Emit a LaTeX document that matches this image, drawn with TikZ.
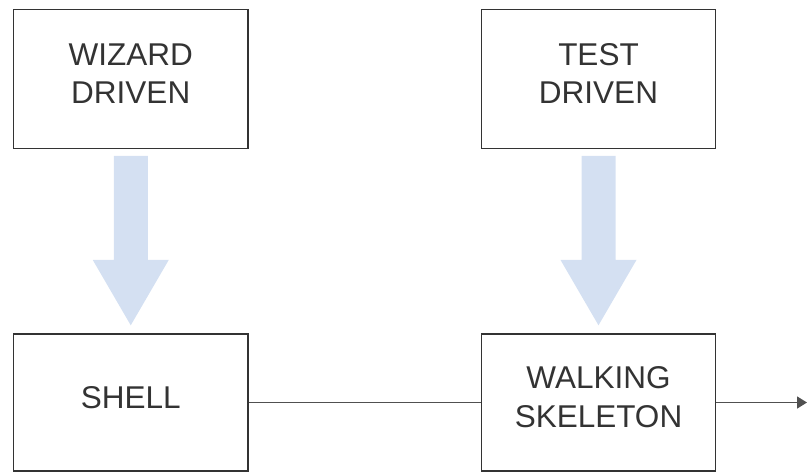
\documentclass[tikz,border=0pt]{standalone}
\usepackage{fontspec}
\setmainfont{Liberation Sans}
\usetikzlibrary{arrows.meta,calc}
\definecolor{boxline}{HTML}{333333}
\definecolor{txt}{HTML}{333333}
\definecolor{blockblue}{HTML}{D4E0F2}
\definecolor{conn}{HTML}{505050}
\tikzset{
  stagebox/.style={draw=boxline, line width=1.4pt, fill=white, minimum width=234.5pt, minimum height=138.5pt,
    inner sep=0pt, align=center, text=txt, text depth=11pt, font=\fontsize{31.5}{38.5}\selectfont},
  bigarrow/.style={fill=blockblue, draw=none},
  link/.style={draw=conn, line width=1.6pt}
}
\begin{document}
\begin{tikzpicture}[x=1pt,y=-1pt]
\useasboundingbox (0,0) rectangle (807,472);
\node[stagebox] (wiz) at (130.75,79) {WIZARD\\DRIVEN};
\node[stagebox] (test) at (598.5,79) {TEST\\DRIVEN};
\node[stagebox, minimum height=137pt] (shell) at (130.75,402.5) {SHELL};
\node[stagebox, minimum height=137pt] (walk) at (598.5,402.5) {WALKING\\SKELETON};
\foreach \a/\b in {wiz/shell, test/walk}{
  \fill[bigarrow] ($(\a.south)+(-17,7)$) -- ($(\a.south)+(17,7)$) -- ($(\a.south)+(17,111)$)
    -- ($(\a.south)+(38,111)$) -- ($(\b.north)+(0,-8)$) -- ($(\a.south)+(-38,111)$)
    -- ($(\a.south)+(-17,111)$) -- cycle;
}
\coordinate (out) at (807,402.5);
\draw[link] (shell.east) -- (walk.west);
\draw[link, -{Triangle[length=10pt,width=12pt]}] (walk.east) -- (out);
\end{tikzpicture}
\end{document}
